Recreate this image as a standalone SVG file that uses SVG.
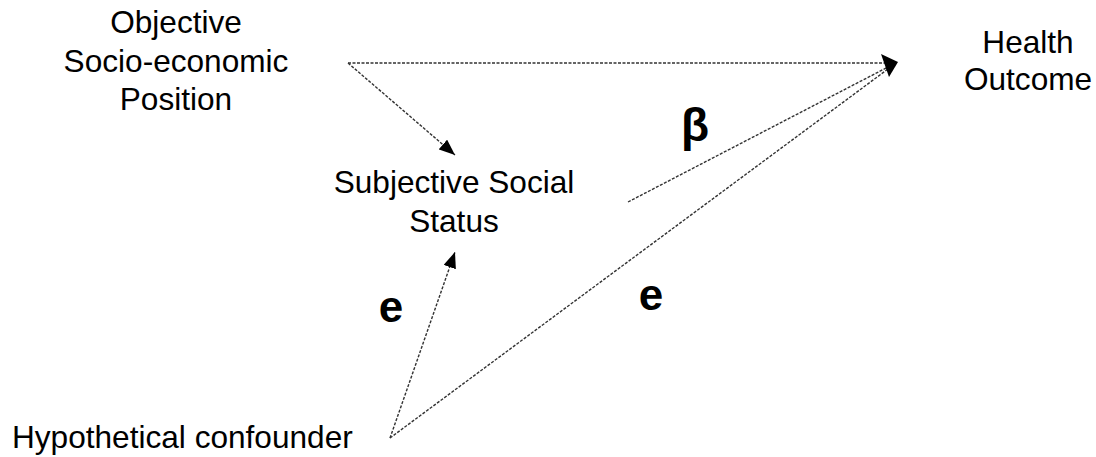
<svg xmlns="http://www.w3.org/2000/svg" width="1096" height="457" viewBox="0 0 1096 457">
<style>
.lbl{font-family:"Liberation Sans",Arial,sans-serif;font-size:31.6px;fill:#000;text-anchor:middle}
.sym{font-family:"Liberation Sans",Arial,sans-serif;font-size:44px;font-weight:bold;fill:#000;text-anchor:middle}
.edge{stroke:#333;stroke-width:1.4;stroke-dasharray:3 1.5;fill:none}
</style>
<defs>
<marker id="ah" markerUnits="userSpaceOnUse" markerWidth="17" markerHeight="13" refX="16" refY="6.5" orient="auto">
<path d="M0,0 L16,6.5 L0,13 z" fill="#000"/>
</marker>
</defs>
<rect width="1096" height="457" fill="#fff"/>
<g id="connectors">
<line class="edge" x1="348" y1="63" x2="886" y2="63"/>
<line class="edge" x1="348" y1="63" x2="455" y2="155" marker-end="url(#ah)"/>
<line class="edge" x1="628" y1="202" x2="888" y2="67"/>
<line class="edge" x1="390" y1="438" x2="888" y2="69"/>
<line class="edge" x1="390" y1="438" x2="455" y2="252" marker-end="url(#ah)"/>
<path d="M881,54 L898,62 L889,77 z" fill="#000"/>
</g>
<g id="node-objective">
<text class="lbl" x="176" y="33">Objective</text>
<text class="lbl" x="176" y="72">Socio-economic</text>
<text class="lbl" x="176" y="110">Position</text>
</g>
<g id="node-health">
<text class="lbl" x="1028" y="53">Health</text>
<text class="lbl" x="1028" y="90">Outcome</text>
</g>
<g id="node-sss">
<text class="lbl" x="454" y="193">Subjective Social</text>
<text class="lbl" x="454" y="232">Status</text>
</g>
<g id="node-confounder">
<text class="lbl" x="12" y="448" style="text-anchor:start">Hypothetical confounder</text>
</g>
<g id="labels">
<text class="sym" x="695" y="141" style="font-size:46px">β</text>
<text class="sym" x="391" y="322">e</text>
<text class="sym" x="651" y="310">e</text>
</g>
</svg>
